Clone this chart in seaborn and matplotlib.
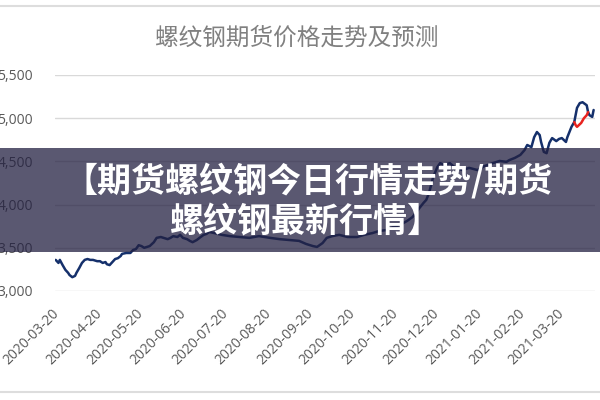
import pandas as pd
import matplotlib.pyplot as plt
from matplotlib.patches import Rectangle
from matplotlib.lines import Line2D
from matplotlib.ticker import FuncFormatter
import seaborn as sns

title = '螺纹钢期货价格走势及预测'
banner_line1 = '【期货螺纹钢今日行情走势/期货'
banner_line2 = '螺纹钢最新行情】'

actual_dates = [
    '2020-03-19', '2020-03-21', '2020-03-22', '2020-03-24', '2020-03-26', '2020-03-28',
    '2020-03-29', '2020-03-31', '2020-04-02', '2020-04-03', '2020-04-05', '2020-04-07',
    '2020-04-09', '2020-04-11', '2020-04-13', '2020-04-15', '2020-04-18', '2020-04-20',
    '2020-04-22', '2020-04-24', '2020-04-25', '2020-04-27', '2020-04-29', '2020-05-01',
    '2020-05-03', '2020-05-05', '2020-05-06', '2020-05-09', '2020-05-12', '2020-05-14',
    '2020-05-16', '2020-05-18', '2020-05-20', '2020-05-22', '2020-05-24', '2020-05-26',
    '2020-05-29', '2020-05-31', '2020-06-03', '2020-06-05', '2020-06-08', '2020-06-10',
    '2020-06-12', '2020-06-15', '2020-06-17', '2020-06-19', '2020-06-22', '2020-06-24',
    '2020-06-26', '2020-06-29', '2020-07-01', '2020-07-04', '2020-07-06', '2020-07-08',
    '2020-07-12', '2020-07-17', '2020-07-23', '2020-07-30', '2020-08-06', '2020-08-13',
    '2020-08-21', '2020-08-28', '2020-09-04', '2020-09-11', '2020-09-16', '2020-09-21',
    '2020-09-24', '2020-09-28', '2020-10-01', '2020-10-05', '2020-10-10', '2020-10-16',
    '2020-10-23', '2020-10-28', '2020-11-03', '2020-11-08', '2020-11-13', '2020-11-18',
    '2020-11-23', '2020-11-28', '2020-12-02', '2020-12-05', '2020-12-07', '2020-12-10',
    '2020-12-12', '2020-12-14', '2020-12-17', '2020-12-20', '2020-12-22', '2020-12-25',
    '2020-12-29', '2021-01-02', '2021-01-07', '2021-01-12', '2021-01-18', '2021-01-23',
    '2021-01-29', '2021-02-03', '2021-02-08', '2021-02-10', '2021-02-14', '2021-02-18',
    '2021-02-21', '2021-02-23', '2021-02-26', '2021-02-28', '2021-03-02', '2021-03-04',
    '2021-03-05', '2021-03-07', '2021-03-09', '2021-03-11', '2021-03-13', '2021-03-16',
    '2021-03-18', '2021-03-20', '2021-03-23', '2021-03-24', '2021-03-27', '2021-03-29',
    '2021-03-31', '2021-04-02', '2021-04-04', '2021-04-07', '2021-04-08', '2021-04-09',
    '2021-04-11', '2021-04-12',
]
actual_prices = [
    3360, 3325, 3360, 3300, 3245, 3210,
    3185, 3160, 3175, 3210, 3265, 3325,
    3360, 3370, 3360, 3360, 3345, 3345,
    3325, 3335, 3310, 3300, 3335, 3370,
    3380, 3405, 3430, 3440, 3440, 3475,
    3485, 3530, 3520, 3500, 3510, 3520,
    3565, 3615, 3625, 3615, 3600, 3615,
    3635, 3625, 3650, 3615, 3600, 3580,
    3565, 3590, 3615, 3650, 3660, 3683,
    3670, 3650, 3635, 3625, 3615, 3635,
    3615, 3600, 3590, 3580, 3545, 3520,
    3510, 3555, 3615, 3635, 3650, 3625,
    3625, 3650, 3670, 3695, 3705, 3740,
    3765, 3810, 3855, 3915, 3960, 4020,
    4055, 4135, 4320, 4435, 4480, 4460,
    4480, 4425, 4400, 4425, 4400, 4445,
    4480, 4505, 4495, 4515, 4540, 4575,
    4630, 4690, 4665, 4780, 4840, 4805,
    4725, 4610, 4595, 4715, 4770, 4735,
    4760, 4770, 4725, 4780, 4900, 4955,
    5120, 5175, 5185, 5150, 5070, 5035,
    5015, 5095,
]

# forecast (red)
forecast_dates = ['2021-03-29', '2021-03-30', '2021-03-31', '2021-04-03',
                  '2021-04-05', '2021-04-07', '2021-04-08']
forecast_prices = [4955, 4920, 4900, 4945, 5000, 5035, 5070]

tick_labels = ['2020-03-20', '2020-04-20', '2020-05-20', '2020-06-20', '2020-07-20',
               '2020-08-20', '2020-09-20', '2020-10-20', '2020-11-20', '2020-12-20',
               '2021-01-20', '2021-02-20', '2021-03-20']
y_ticks = [3000, 3500, 4000, 4500, 5000, 5500]

sns.set_style('white')
plt.rcParams['font.family'] = ['Open Sans', 'Noto Sans CJK SC', 'DejaVu Sans']

fig = plt.figure(figsize=(6, 4), dpi=100)
ax = fig.add_axes([55 / 600, 1 - 291 / 400, 540 / 600, 216 / 400])

sns.lineplot(x=pd.to_datetime(actual_dates), y=actual_prices, ax=ax,
             color='#15306b', linewidth=1.8)
sns.lineplot(x=pd.to_datetime(forecast_dates), y=forecast_prices, ax=ax,
             color='#e8231f', linewidth=1.8)

ax.set_ylim(3000, 5500)
ax.set_yticks(y_ticks)
ax.yaxis.set_major_formatter(FuncFormatter(lambda v, p: f'{v:,.0f}'))
ax.set_xlim(pd.Timestamp('2020-03-18 12:00'), pd.Timestamp('2021-04-13'))
ax.set_xticks(pd.to_datetime(tick_labels))
ax.set_xticklabels(tick_labels, rotation=45, ha='right', va='center',
                   rotation_mode='anchor')
ax.set_xlabel('')
ax.set_ylabel('')

ax.grid(axis='y', color='#d9d9d9', linewidth=1)
ax.grid(axis='x', visible=False)
ax.set_axisbelow(True)
for s in ax.spines.values():
    s.set_visible(False)
ax.tick_params(axis='both', length=0, colors='#595959', labelsize=10)
ax.tick_params(axis='y', pad=16)
ax.tick_params(axis='x', pad=15)

fig.text(297 / 600, 1 - 38 / 400, title, ha='center', va='center', fontsize=17,
         color='#808080', family=['Noto Sans CJK SC', 'DejaVu Sans'])

# thin frame lines at top and bottom
fig.add_artist(Line2D([0, 1], [1 - 6 / 400] * 2, color='#dddddd', linewidth=1.5))
fig.add_artist(Line2D([0, 1], [1 - 392 / 400] * 2, color='#dddddd', linewidth=1.5))

# dark banner over the chart
fig.add_artist(Rectangle((0, 1 - 252 / 400), 1, 104 / 400, transform=fig.transFigure,
                         facecolor='#232041', alpha=0.75, edgecolor='none', zorder=10))
fig.text(63 / 600, 1 - 181 / 400, banner_line1, ha='left', va='center', fontsize=24.5,
         fontweight='bold', color='white', zorder=11,
         family=['Noto Sans CJK SC', 'DejaVu Sans'])
fig.text(170 / 600, 1 - 222 / 400, banner_line2, ha='left', va='center', fontsize=24.5,
         fontweight='bold', color='white', zorder=11,
         family=['Noto Sans CJK SC', 'DejaVu Sans'])

fig.savefig('out.png', dpi=100)
